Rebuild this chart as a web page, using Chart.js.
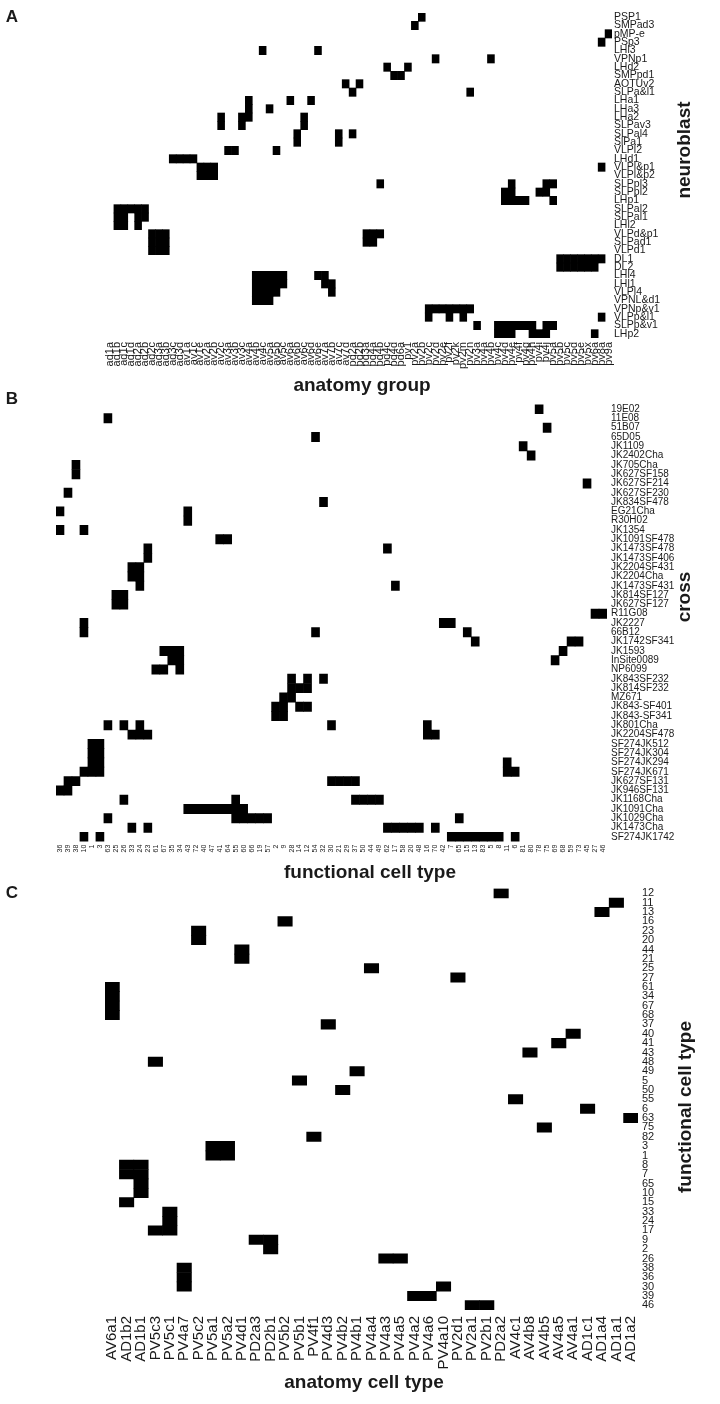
<!DOCTYPE html>
<html>
<head>
<meta charset="utf-8">
<title>Neuroblast / cross / cell type matches</title>
<script src="https://cdn.jsdelivr.net/npm/chart.js@4.4.1/dist/chart.umd.min.js"></script>
<style>
    html, body { margin: 0; padding: 0; background: #fff; }
    #wrap { position: relative; width: 720px; height: 1404px; }
    canvas { position: absolute; left: 0; }
</style>
</head>
<body>
<div id="wrap">
    <canvas id="panelA" width="720" height="395" style="top:0px"></canvas>
    <canvas id="panelB" width="720" height="502" style="top:388px"></canvas>
    <canvas id="panelC" width="720" height="526" style="top:878px"></canvas>
</div>
<script>
// ---- Panel A: neuroblast x anatomy group ----
const neuroblasts = ['PSP1', 'SMPad3', 'pMP-e', 'PSp3', 'LHl3', 'VPNp1', 'LHd2', 'SMPpd1', 'AOTUv2', 'SLPa&l1',
    'LHa1', 'LHa3', 'LHa2', 'SLPav3', 'SLPal4', 'SlPa1', 'VLPl2', 'LHd1', 'VLPl&p1', 'VLPl&p2',
    'SLPpl3', 'SLPpl2', 'LHp1', 'SLPal2', 'SLPal1', 'LHl2', 'VLPd&p1', 'SLPad1', 'VLPd1', 'DL1',
    'DL2', 'LHl4', 'LHl1', 'VLPl4', 'VPNL&d1', 'VPNp&v1', 'VLPp&l1', 'SLPp&v1', 'LHp2'];

const anatomyGroups = ['ad1a', 'ad1b', 'ad1c', 'ad1d', 'ad2a', 'ad2b', 'ad2c', 'ad3a', 'ad3b', 'ad3c', 'ad3d',
    'av1a', 'av1c', 'av1e', 'av2a', 'av2b', 'av2c', 'av3a', 'av3b', 'av3c', 'av4a', 'av4b', 'av4c',
    'av5a', 'av5b', 'av5c', 'av6a', 'av6b', 'av6c', 'av6d', 'av6e', 'av7a', 'av7b', 'av7c', 'av7d',
    'pd2a', 'pd2b', 'pd3a', 'pd4a', 'pd4b', 'pd4c', 'pd4d', 'pd6a', 'pv1', 'pv2a', 'pv2b', 'pv2c',
    'pv2d', 'pv2e', 'pv2f', 'pv2k', 'pv2m', 'pv2n', 'pv3a', 'pv4a', 'pv4b', 'pv4c', 'pv4d', 'pv4e',
    'pv4f', 'pv4g', 'pv4h', 'pv4i', 'pv4j', 'pv5a', 'pv5b', 'pv5c', 'pv5d', 'pv5e', 'pv5x', 'pv6a',
    'pv8a', 'pv9a'];

// column indexes (into anatomyGroups) marked for each neuroblast row
const neuroblastGroups = [
    [45], [44], [72], [71], [22, 30], [47, 55], [40, 43], [41, 42], [34, 36], [35, 52],
    [20, 26, 29], [20, 23], [16, 19, 20, 28], [16, 19, 28], [27, 33, 35], [27, 33], [17, 18, 24],
    [9, 10, 11, 12], [13, 14, 15, 71], [13, 14, 15],
    [39, 58, 63, 64], [57, 58, 62, 63], [57, 58, 59, 60, 64], [1, 2, 3, 4, 5], [1, 2, 4, 5], [1, 2, 4],
    [6, 7, 8, 37, 38, 39], [6, 7, 8, 37, 38], [6, 7, 8], [65, 66, 67, 68, 69, 70, 71],
    [65, 66, 67, 68, 69, 70], [21, 22, 23, 24, 25, 30, 31], [21, 22, 23, 24, 25, 31, 32],
    [21, 22, 23, 24, 32], [21, 22, 23], [46, 47, 48, 49, 50, 51, 52], [46, 49, 51, 71],
    [53, 56, 57, 58, 59, 60, 61, 63, 64], [56, 57, 58, 61, 62, 63, 70]
];

// ---- Panel B: cross x functional cell type ----
const crosses = ['19E02', '11E08', '51B07', '65D05', 'JK1109', 'JK2402Cha', 'JK705Cha', 'JK627SF158',
    'JK627SF214', 'JK627SF230', 'JK834SF478', 'EG21Cha', 'R30H02', 'JK1354', 'JK1091SF478',
    'JK1473SF478', 'JK1473SF406', 'JK2204SF431', 'JK2204Cha', 'JK1473SF431', 'JK814SF127',
    'JK627SF127', 'R11G08', 'JK2227', '66B12', 'JK1742SF341', 'JK1593', 'InSite0089', 'NP6099',
    'JK843SF232', 'JK814SF232', 'MZ671', 'JK843-SF401', 'JK843-SF341', 'JK801Cha', 'JK2204SF478',
    'SF274JK512', 'SF274JK304', 'SF274JK294', 'SF274JK671', 'JK627SF131', 'JK946SF131',
    'JK1168Cha', 'JK1091Cha', 'JK1029Cha', 'JK1473Cha', 'SF274JK1742'];

const functionalTypes = ['36', '39', '38', '10', '1', '3', '63', '25', '26', '33', '24', '23', '61', '67',
    '35', '34', '43', '72', '40', '47', '41', '64', '55', '60', '66', '19', '57', '2', '9', '28', '14',
    '12', '54', '32', '30', '21', '29', '37', '50', '44', '49', '62', '17', '58', '20', '48', '16',
    '70', '42', '7', '65', '15', '13', '83', '5', '8', '11', '6', '81', '80', '78', '75', '69', '68',
    '59', '73', '45', '27', '46'];

const crossTypes = [
    [60], [6], [61], [32], [58], [59], [2], [2], [66], [1],
    [33], [0, 16], [16], [0, 3], [20, 21], [11, 41], [11], [9, 10], [9, 10], [10, 42],
    [7, 8], [7, 8], [67, 68], [3, 48, 49], [3, 32, 51], [52, 64, 65], [13, 14, 15, 63], [14, 15, 62],
    [12, 13, 15], [29, 31, 33],
    [29, 30, 31], [28, 29], [27, 28, 30, 31], [27, 28], [6, 8, 10, 34, 46], [9, 10, 11, 46, 47],
    [4, 5], [4, 5], [4, 5, 56], [3, 4, 5, 56, 57],
    [1, 2, 34, 35, 36, 37], [0, 1], [8, 22, 37, 38, 39, 40], [16, 17, 18, 19, 20, 21, 22, 23],
    [6, 22, 23, 24, 25, 26, 50], [9, 11, 41, 42, 43, 44, 45, 47], [3, 5, 49, 50, 51, 52, 53, 54, 55, 57]
];

// ---- Panel C: functional cell type x anatomy cell type ----
const cellTypeRows = ['12', '11', '13', '16', '23', '20', '44', '21', '25', '27', '61', '34', '67', '68',
    '37', '40', '41', '43', '48', '49', '5', '50', '55', '6', '63', '75', '82', '3', '1', '8', '7', '65',
    '10', '15', '33', '24', '17', '9', '2', '26', '38', '36', '30', '39', '46'];

const anatomyCellTypes = ['AV6a1', 'AD1b2', 'AD1b1', 'PV5c3', 'PV5c1', 'PV4a7', 'PV5c2', 'PV5a1', 'PV5a2',
    'PV4d1', 'PD2a3', 'PD2b1', 'PV5b2', 'PV5b1', 'PV4f1', 'PV4d3', 'PV4b2', 'PV4b1', 'PV4a4', 'PV4a3',
    'PV4a5', 'PV4a2', 'PV4a6', 'PV4a10', 'PV2d1', 'PV2a1', 'PV2b1', 'PD2a2', 'AV4c1', 'AV4b8', 'AV4b5',
    'AV4a5', 'AV4a1', 'AD1c1', 'AD1a4', 'AD1a1', 'AD1a2'];

const cellTypeMatches = [
    [27], [35], [34], [12], [6], [6], [9], [9], [18], [24], [0], [0], [0], [0],
    [15], [32], [31], [29], [3], [17], [13], [16], [28], [33], [36], [30], [14], [7, 8], [7, 8],
    [1, 2], [1, 2], [2], [2], [1], [4], [4], [3, 4], [10, 11], [11], [19, 20], [5], [5], [5, 23],
    [21, 22], [25, 26]
];

Chart.defaults.font.family = "'Liberation Sans', Arial, Helvetica, sans-serif";
Chart.defaults.color = '#1a1a1a';

// free text: panel letters and axis titles
const panelText = {
    id: 'panelText',
    afterDraw(chart, args, opts) {
        const ctx = chart.ctx;
        (opts.items || []).forEach(t => {
            ctx.save();
            ctx.translate(t.x, t.y);
            if (t.rotate) ctx.rotate(t.rotate);
            ctx.font = t.font;
            ctx.fillStyle = '#1a1a1a';
            ctx.textAlign = t.align || 'center';
            ctx.textBaseline = 'middle';
            ctx.fillText(t.text, 0, 0);
            ctx.restore();
        });
    }
};

// one floating bar per marked cell; cells sharing a column go to separate datasets
function cellLayers(cols, links) {
    const layers = [];
    const depth = {};
    links.forEach((cs, r) => {
        cs.forEach(c => {
            const k = depth[c] || 0;
            depth[c] = k + 1;
            if (!layers[k]) layers[k] = [];
            layers[k].push({ x: cols[c], y: [r - 0.5, r + 0.5] });
        });
    });
    return layers.map(data => ({
        data: data,
        backgroundColor: '#000',
        borderWidth: 0,
        grouped: false,
        barPercentage: 1,
        categoryPercentage: 1
    }));
}

function heatmap(id, rows, cols, links, p) {
    return new Chart(document.getElementById(id), {
        type: 'bar',
        data: { labels: cols, datasets: cellLayers(cols, links) },
        options: {
            responsive: false,
            animation: false,
            events: [],
            layout: { padding: { left: p.left, top: p.top, right: 0, bottom: 0 } },
            plugins: {
                legend: { display: false },
                tooltip: { enabled: false },
                panelText: { items: p.texts }
            },
            scales: {
                x: {
                    type: 'category',
                    offset: true,
                    grid: { display: false, drawTicks: false },
                    border: { display: false },
                    ticks: {
                        autoSkip: false,
                        minRotation: 90,
                        maxRotation: 90,
                        padding: p.xPad,
                        font: { size: p.xFont }
                    },
                    afterFit: s => { s.height = p.xHeight; }
                },
                y: {
                    type: 'linear',
                    position: 'right',
                    reverse: true,
                    min: -0.5,
                    max: rows.length - 0.5,
                    grid: { display: false, drawTicks: false },
                    border: { display: false },
                    afterBuildTicks: s => { s.ticks = rows.map((_, i) => ({ value: i })); },
                    ticks: {
                        autoSkip: false,
                        padding: p.yPad,
                        font: { size: p.yFont },
                        callback: v => rows[v]
                    },
                    afterFit: s => { s.width = p.yWidth; }
                }
            }
        },
        plugins: [panelText]
    });
}

const bold = 'bold 19px "Liberation Sans", Arial, sans-serif';
const letter = 'bold 17px "Liberation Sans", Arial, sans-serif';

heatmap('panelA', neuroblasts, anatomyGroups, neuroblastGroups, {
    left: 107, top: 13, xHeight: 57, yWidth: 108,
    xFont: 11, yFont: 10.5, xPad: 4, yPad: 2,
    texts: [
        { text: 'A', x: 12, y: 17, font: letter },
        { text: 'anatomy group', x: 362, y: 386, font: bold },
        { text: 'neuroblast', x: 685, y: 150, font: bold, rotate: -Math.PI / 2 }
    ]
});

heatmap('panelB', crosses, functionalTypes, crossTypes, {
    left: 56, top: 16.4, xHeight: 48.4, yWidth: 113,
    xFont: 7, yFont: 10, xPad: 3, yPad: 4,
    texts: [
        { text: 'B', x: 12, y: 11, font: letter },
        { text: 'functional cell type', x: 370, y: 485, font: bold },
        { text: 'cross', x: 685, y: 209, font: bold, rotate: -Math.PI / 2 }
    ]
});

heatmap('panelC', cellTypeRows, anatomyCellTypes, cellTypeMatches, {
    left: 105, top: 9.7, xHeight: 94, yWidth: 82,
    xFont: 15, yFont: 11, xPad: 6, yPad: 4,
    texts: [
        { text: 'C', x: 12, y: 15, font: letter },
        { text: 'anatomy cell type', x: 364, y: 505, font: bold },
        { text: 'functional cell type', x: 686, y: 229, font: bold, rotate: -Math.PI / 2 }
    ]
});
</script>
</body>
</html>
